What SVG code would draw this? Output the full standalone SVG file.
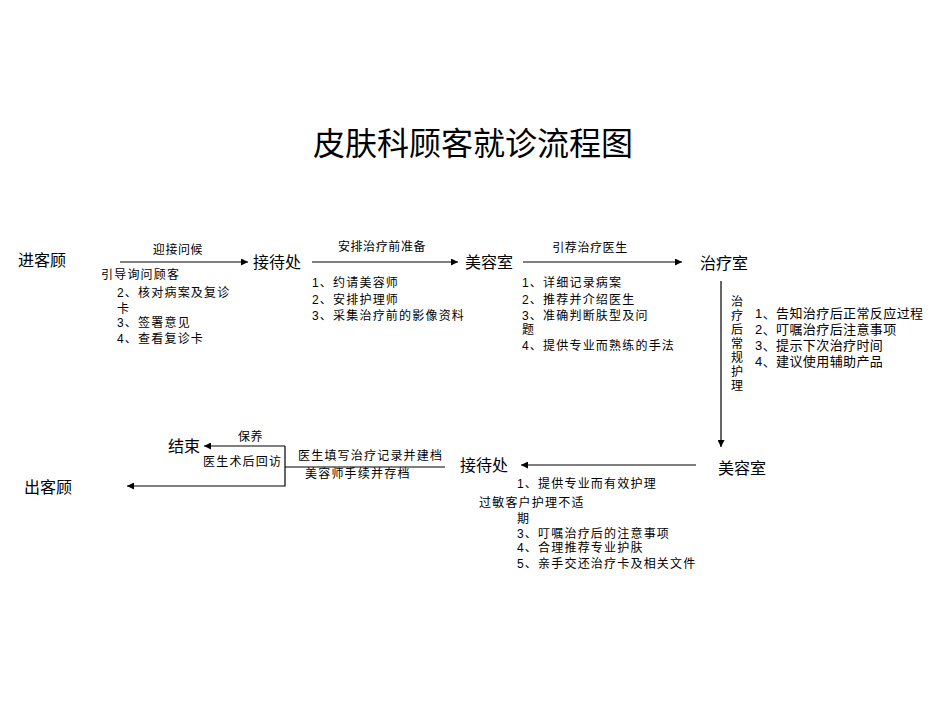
<svg xmlns="http://www.w3.org/2000/svg" width="950" height="713" viewBox="0 0 950 713">
<style>
text{font-family:"Noto Sans CJK SC","Noto Sans",sans-serif;fill:#000}
.t{font-size:32px}
.n{font-size:16px}
.l,.s,.b,.v{font-family:"Liberation Sans","Noto Sans CJK SC",sans-serif}
.l{font-size:12px;letter-spacing:0.6px}
.s{font-size:12px;letter-spacing:1.2px}
.b{font-size:13px;letter-spacing:0.4px}
.v{font-size:12px}
.ln{stroke:#000;stroke-width:1.2;fill:none}
</style>
<defs>
<marker id="ah" viewBox="0 0 10 10" refX="10" refY="5" markerWidth="9" markerHeight="7" markerUnits="userSpaceOnUse" orient="auto">
<path d="M0,0 L10,5 L0,10 z" fill="#000"/>
</marker>
</defs>
<rect width="950" height="713" fill="#fff"/>
<text class="t" x="473" y="155" text-anchor="middle">皮肤科顾客就诊流程图</text>

<g id="connectors">
<line class="ln" x1="120" y1="262" x2="248" y2="262" marker-end="url(#ah)"/>
<line class="ln" x1="312" y1="262" x2="458" y2="262" marker-end="url(#ah)"/>
<line class="ln" x1="523" y1="262" x2="682" y2="262" marker-end="url(#ah)"/>
<line class="ln" x1="721" y1="281" x2="721" y2="447" marker-end="url(#ah)"/>
<line class="ln" x1="696" y1="465" x2="521" y2="465" marker-end="url(#ah)"/>
<line class="ln" x1="445" y1="467" x2="285" y2="467"/>
<line class="ln" x1="285" y1="446" x2="204" y2="446" marker-end="url(#ah)"/>
<polyline class="ln" points="285,446 285,486 127,486" marker-end="url(#ah)"/>
<text class="l" x="178" y="254" text-anchor="middle">迎接问候</text>
<text class="l" x="382" y="251" text-anchor="middle">安排治疗前准备</text>
<text class="l" x="590" y="252" text-anchor="middle">引荐治疗医生</text>
<text class="l" x="238" y="441">保养</text>
</g>

<g id="node-enter"><text class="n" x="18" y="266">进客顾</text></g>
<g id="node-reception1"><text class="n" x="253" y="268">接待处</text></g>
<g id="node-beauty1"><text class="n" x="465" y="268">美容室</text></g>
<g id="node-treat"><text class="n" x="700" y="269">治疗室</text></g>
<g id="node-beauty2"><text class="n" x="718" y="474">美容室</text></g>
<g id="node-reception2"><text class="n" x="460" y="471">接待处</text></g>
<g id="node-end"><text class="n" x="168" y="452">结束</text></g>
<g id="node-exit"><text class="n" x="24" y="493">出客顾</text></g>

<g id="notes1">
<text class="s" x="101" y="279">引导询问顾客</text>
<text class="s" x="117" y="297">2、核对病案及复诊</text>
<text class="s" x="117" y="313">卡</text>
<text class="s" x="117" y="327">3、签署意见</text>
<text class="s" x="117" y="343">4、查看复诊卡</text>
</g>

<g id="notes2">
<text class="s" x="312" y="287">1、约请美容师</text>
<text class="s" x="312" y="304">2、安排护理师</text>
<text class="s" x="312" y="320">3、采集治疗前的影像资料</text>
</g>

<g id="notes3">
<text class="s" x="522" y="287">1、详细记录病案</text>
<text class="s" x="522" y="304">2、推荐并介绍医生</text>
<text class="s" x="522" y="320">3、准确判断肤型及问</text>
<text class="s" x="522" y="334">题</text>
<text class="s" x="522" y="350">4、提供专业而熟练的手法</text>
</g>

<g id="notes4">
<text class="v" x="731" y="306">治</text>
<text class="v" x="731" y="320">疗</text>
<text class="v" x="731" y="334">后</text>
<text class="v" x="731" y="348">常</text>
<text class="v" x="731" y="362">规</text>
<text class="v" x="731" y="376">护</text>
<text class="v" x="731" y="390">理</text>
<text class="b" x="755" y="318">1、告知治疗后正常反应过程</text>
<text class="b" x="755" y="334">2、叮嘱治疗后注意事项</text>
<text class="b" x="755" y="350">3、提示下次治疗时间</text>
<text class="b" x="755" y="366">4、建议使用辅助产品</text>
</g>

<g id="notes5">
<text class="s" x="298" y="460">医生填写治疗记录并建档</text>
<text class="s" x="305" y="478">美容师手续并存档</text>
<text class="s" x="203" y="466">医生术后回访</text>
</g>

<g id="notes6">
<text class="s" x="517" y="488">1、提供专业而有效护理</text>
<text class="s" x="479" y="507">过敏客户护理不适</text>
<text class="s" x="517" y="523">期</text>
<text class="s" x="517" y="538">3、叮嘱治疗后的注意事项</text>
<text class="s" x="517" y="552">4、合理推荐专业护肤</text>
<text class="s" x="517" y="568">5、亲手交还治疗卡及相关文件</text>
</g>
</svg>
